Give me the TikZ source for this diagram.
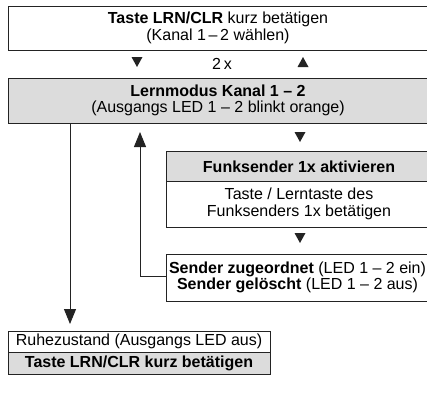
\documentclass[tikz,border=0pt]{standalone}
\usepackage{fontspec}
\setmainfont{Liberation Sans}
\usetikzlibrary{arrows.meta}
\definecolor{boxgray}{RGB}{220,220,220}
\definecolor{linec}{RGB}{35,35,35}
\tikzset{
  every node/.style={font=\fontsize{16}{16.5}\selectfont},
  boxline/.style={draw=linec, line width=1pt},
  txt/.style={align=center, inner sep=0pt},
  conn/.style={draw=linec, line width=1pt, -{Triangle[length=15pt,width=12pt]}},
  tridown/.pic={\fill[linec] (-5.5,-5) -- (5.5,-5) -- (0,5) -- cycle;},
  triup/.pic={\fill[linec] (-5.5,5) -- (5.5,5) -- (0,-5) -- cycle;}
}
\begin{document}
\begin{tikzpicture}[x=1pt,y=-1pt]
\useasboundingbox (0,0) rectangle (427,394);
\clip (0,0) rectangle (427,394);
% top box
\draw[boxline, fill=white] (8,6) rectangle (440,50);
\node[txt] (top) at (218,28) {\textbf{Taste LRN/CLR} kurz betätigen\\(Kanal 1\,–\,2 wählen)};
% triangles and 2x
\pic at (137,62) {tridown};
\pic at (303,62) {triup};
\node[txt] (twox) at (222,63.5) {2\,x};
% Lernmodus box
\draw[boxline, fill=boxgray] (8,78) rectangle (440,123);
\node[txt] (lern) at (218,100.5) {\textbf{Lernmodus Kanal 1 – 2}\\(Ausgangs LED 1 – 2 blinkt orange)};
\coordinate (lernbot) at (70,123);
\coordinate (lernbot2) at (140,123);
% Funksender boxes
\pic at (300,137) {tridown};
\draw[boxline, fill=boxgray] (166,151) rectangle (440,181);
\node[txt] (funk) at (299,166.5) {\textbf{Funksender 1x aktivieren}};
\draw[boxline, fill=white] (166,181) rectangle (440,227);
\node[txt] (taste) at (299,204) {Taste / Lerntaste des\\Funksenders 1x betätigen};
\pic at (300,238) {tridown};
% Sender box
\draw[boxline, fill=white] (166,254) rectangle (440,301);
\node[txt] (sender) at (297.5,277.5) {\textbf{Sender zugeordnet} (LED 1 – 2 ein)\\\textbf{Sender gelöscht} (LED 1 – 2 aus)};
\coordinate (senderw) at (166,276);
% Ruhezustand boxes
\draw[boxline, fill=white] (8,331) rectangle (270,352);
\node[txt] (ruhe) at (139,341.5) {Ruhezustand (Ausgangs LED aus)};
\draw[boxline, fill=boxgray] (8,352) rectangle (270,374);
\node[txt] (ruhetaste) at (139,363) {\textbf{Taste LRN/CLR kurz betätigen}};
\coordinate (ruhetop) at (70,331);
% connectors
\draw[conn, shorten >=7pt] (lernbot) -- (ruhetop);
\draw[conn, shorten >=9pt] (senderw) -- (lernbot2 |- senderw) -- (lernbot2);
\end{tikzpicture}
\end{document}
